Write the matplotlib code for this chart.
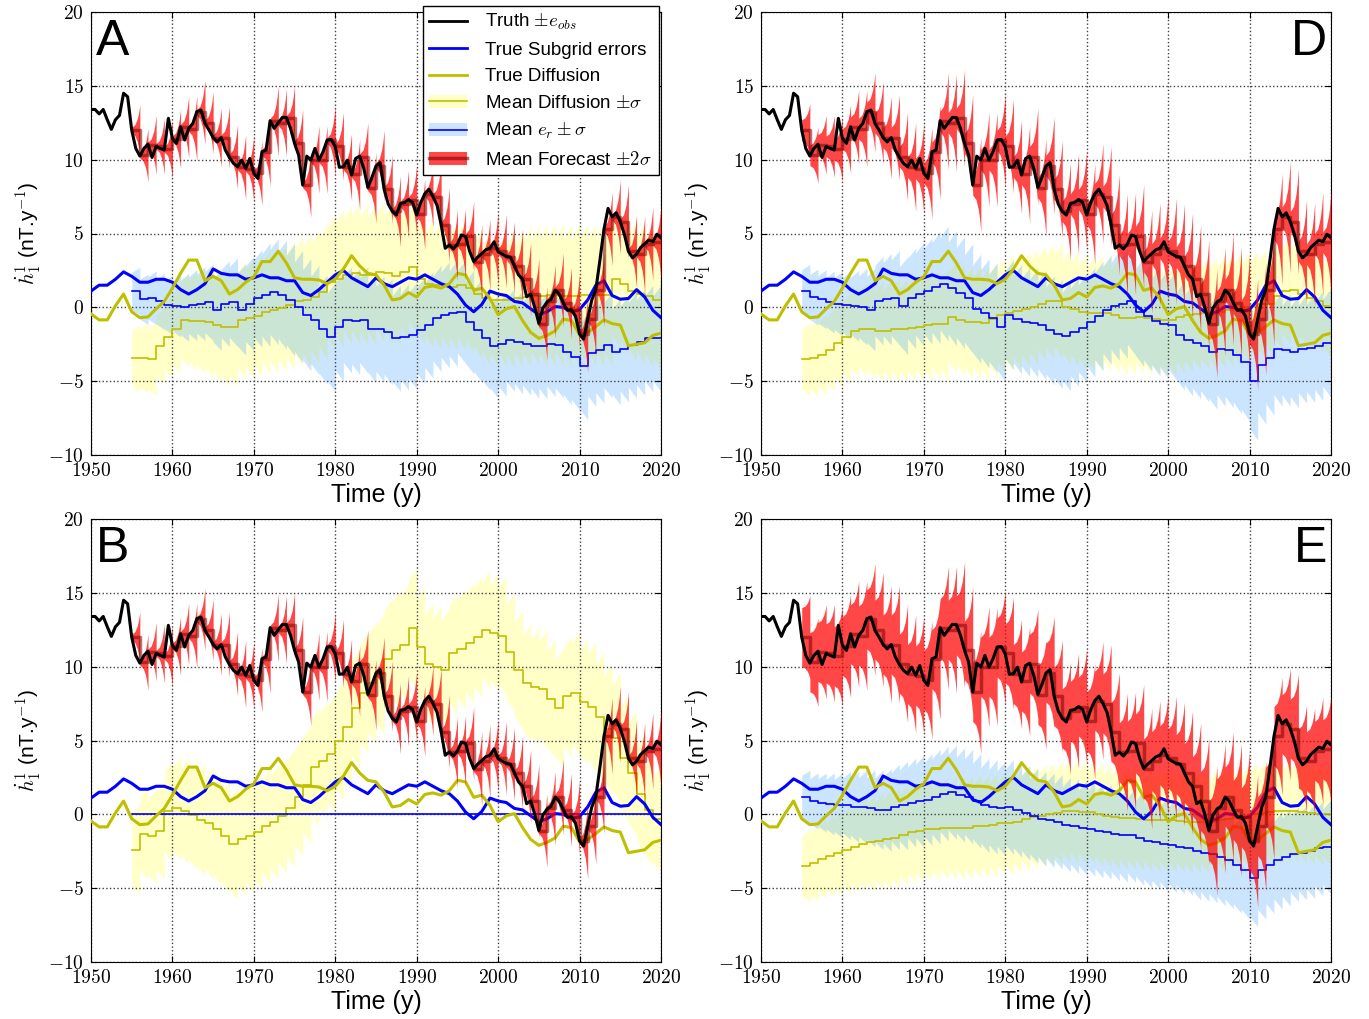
import numpy as np
import matplotlib
matplotlib.use('Agg')
import matplotlib.pyplot as plt
from matplotlib.lines import Line2D
from matplotlib.patches import Patch
from matplotlib.ticker import FuncFormatter, MultipleLocator

plt.rcParams['font.family'] = ['Liberation Sans', 'DejaVu Sans']
plt.rcParams['mathtext.fontset'] = 'cm'

# ---- common "true" series ----
t_truth = np.arange(1950, 2020.01, 0.5)
truth = [13.4, 13.4, 13.1, 13.4, 12.7, 12.05, 12.7, 13.0, 14.5, 14.26,
         12.0, 10.76, 10.24, 10.76, 11.05, 10.15, 10.9, 10.76, 10.65, 12.8,
         11.44, 11.1, 12.23, 11.33, 12.12, 12.45, 13.25, 13.36, 12.45, 12.0,
         11.5, 11.2, 11.5, 10.65, 10.15, 9.75, 9.52, 9.97, 9.41, 10.08,
         9.07, 8.73, 10.54, 10.65, 12.64, 12.12, 12.5, 12.86, 12.86, 12.12,
         11.1, 10.31, 8.28, 10.24, 9.97, 10.76, 9.97, 10.54, 11.33, 11.37,
         10.87, 9.48, 9.52, 9.97, 8.96, 10.08, 10.24, 9.41, 8.12, 8.8,
         9.57, 9.8, 8.0, 7.0, 6.5, 6.25, 7.04, 7.1, 7.3, 7.1,
         6.25, 7.1, 7.7, 8.0, 7.5, 6.9, 5.6, 4.0, 4.22, 3.95,
         4.3, 4.9, 4.8, 3.8, 3.1, 3.4, 3.65, 3.9, 4.0, 4.44,
         3.76, 3.6, 3.45, 3.4, 2.8, 2.2, 1.9, 0.72, 0.9, 0.0,
         -1.09, -0.05, 0.35, 0.55, 1.17, 0.9, 0.3, -0.2, -0.15, -0.6,
         -1.8, -2.15, -0.8, 0.5, 1.2, 3.2, 5.3, 6.7, 6.13, 6.4,
         5.8, 4.95, 3.8, 3.35, 3.6, 4.05, 4.3, 4.55, 4.45, 4.95,
         4.7]

t_year = np.arange(1950, 2021)
subgrid_true = [1.1, 1.5, 1.5, 1.9, 2.4, 2.1, 1.7, 1.7, 1.9, 1.9,
                1.7, 1.2, 0.9, 1.2, 1.6, 2.6, 2.3, 2.2, 2.2, 1.9,
                2.0, 2.2, 2.0, 2.0, 1.8, 1.8, 1.0, 0.8, 1.2, 1.7,
                2.2, 2.5, 2.0, 1.7, 1.4, 2.0, 1.6, 1.4, 1.7, 2.0,
                1.9, 2.2, 1.9, 1.6, 1.4, 0.9, 0.15, -0.3, 0.2, 1.1,
                0.9, 0.8, 0.4, 0.3, -0.1, -0.5, -0.3, 0.05, 0.0, -0.3,
                -0.15, 0.5, 1.5, 1.8, 0.8, 0.55, 0.6, 1.2, 0.7, -0.2,
                -0.7]
diff_true = [-0.45, -0.85, -0.85, 0.1, 0.9, -0.3, -0.7, -0.65, -0.1, 0.4,
             1.3, 2.3, 3.2, 3.2, 1.8, 2.1, 1.8, 0.9, 1.2, 1.7,
             2.07, 3.1, 3.1, 3.8, 3.0, 2.0, 1.9, 1.9, 1.85, 1.6,
             1.9, 2.6, 3.5, 2.8, 2.3, 2.2, 1.5, 0.5, 0.6, 1.0,
             0.7, 1.35, 1.45, 1.3, 1.6, 2.3, 2.2, 1.15, 1.3, 0.6,
             -0.5, -0.1, 0.05, -0.9, -1.7, -2.1, -1.9, -1.6, -0.8, -0.9,
             -1.85, -1.7, -1.3, -0.85, -1.1, -1.2, -2.6, -2.5, -2.4, -1.9,
             -1.75]

# ---- yearly forecast / estimates (1955-2019) ----
fc_years = np.arange(1955, 2020)
fc_mean = [12.0, 10.3, 11.0, 10.9, 10.7, 11.4, 12.2, 12.1, 13.2, 12.5,
           11.5, 11.5, 10.2, 9.5, 9.4, 9.1, 10.5, 12.6, 12.5, 12.8,
           11.1, 8.3, 10.0, 10.0, 11.3, 10.9, 9.5, 9.0, 10.2, 8.1,
           9.6, 8.0, 6.5, 7.0, 7.3, 6.3, 7.7, 7.5, 5.6, 4.2,
           4.3, 4.8, 3.1, 3.6, 4.0, 3.8, 3.4, 2.8, 1.9, 0.9,
           -1.1, 0.4, 1.2, 0.3, -0.2, -1.8, -0.8, 1.2, 5.3, 6.1,
           5.8, 3.8, 3.6, 4.3, 4.4]

# panel A
A_diff_m = [-3.45, -3.4, -3.5, -2.6, -2.0, -1.45, -0.85, -0.9, -0.95, -1.0,
            -1.2, -1.35, -1.35, -0.85, -0.75, -0.6, -0.3, -0.15, -0.05, 0.15,
            0.4, 0.5, 0.7, 1.05, 1.7, 1.95, 2.2, 2.3, 2.2, 2.2,
            2.4, 2.3, 2.1, 2.4, 2.75, 1.9, 1.6, 1.5, 1.5, 1.4,
            1.5, 1.3, 0.9, 0.6, 0.5, 0.5, 0.5, 0.6, 0.7, 0.8,
            0.8, 0.85, 0.85, 0.8, 0.8, 0.85, 0.85, 0.85, 0.85, 1.95,
            1.6, 1.1, 0.9, 0.75, 0.5]
A_diff_s = [2.3, 2.4, 2.5, 2.6, 2.8, 3.0, 3.2, 3.4, 3.6, 3.8,
            3.9, 4.0, 4.0, 4.0, 4.1, 4.1, 4.2, 4.3, 4.3, 4.4,
            4.4, 4.5, 4.5, 4.6, 4.6, 4.7, 4.7, 4.8, 4.8, 4.8,
            4.8, 4.8, 4.7, 4.6, 4.5, 4.4, 4.3, 4.3, 4.3, 4.3,
            4.4, 4.4, 4.4, 4.5, 4.5, 4.5, 4.6, 4.6, 4.7, 4.7,
            4.8, 4.8, 4.8, 4.8, 4.8, 4.8, 4.8, 4.8, 4.8, 4.8,
            4.8, 4.8, 4.8, 4.8, 4.8]
A_er_m = [1.1, 0.55, 0.65, 0.4, 0.15, 0.1, 0.0, 0.15, 0.25, 0.35,
          -0.2, 0.25, 0.35, -0.15, 0.25, 0.6, 0.85, 1.05, 0.85, 0.5,
          0.05, -0.5, -0.85, -1.5, -2.0, -1.3, -0.85, -0.95, -0.85, -1.5,
          -1.45, -1.65, -2.1, -2.0, -1.9, -1.55, -1.2, -0.75, -0.5, -0.4,
          -0.3, -1.0, -1.55, -2.1, -2.65, -2.5, -2.2, -2.35, -2.45, -2.65,
          -2.6, -2.45, -2.55, -3.0, -3.35, -4.0, -3.1, -2.9, -2.55, -3.0,
          -2.8, -2.55, -2.35, -2.1, -2.1]
A_er_s = [1.6, 1.7, 1.8, 1.9, 2.0, 2.1, 2.3, 2.4, 2.5, 2.6,
          2.7, 2.9, 3.0, 3.1, 3.2, 3.3, 3.5, 3.6, 3.7, 3.8,
          3.8, 3.8, 3.7, 3.7, 3.7, 3.7, 3.6, 3.6, 3.6, 3.6,
          3.6, 3.6, 3.6, 3.6, 3.6, 3.6, 3.6, 3.6, 3.6, 3.6,
          3.5, 3.5, 3.5, 3.5, 3.5, 3.5, 3.5, 3.5, 3.5, 3.5,
          3.6, 3.6, 3.6, 3.6, 3.6, 3.6, 3.6, 3.6, 3.6, 3.6,
          3.6, 3.6, 3.6, 3.6, 3.6]
A_fc_w = [1.7, 1.8, 2.0, 1.9, 2.0, 2.0, 2.1, 2.2, 2.2, 2.1,
          2.0, 2.1, 2.2, 2.2, 2.3, 2.2, 2.3, 2.4, 2.3, 2.2,
          2.3, 2.2, 2.3, 2.3, 2.4, 2.3, 2.3, 2.4, 2.3, 2.4,
          2.4, 2.3, 2.4, 2.3, 2.4, 2.4, 2.3, 2.4, 2.5, 2.4,
          2.4, 2.4, 2.5, 2.4, 2.5, 2.5, 2.4, 2.5, 2.5, 2.4,
          2.5, 2.5, 2.5, 2.4, 2.5, 2.6, 2.5, 2.5, 2.5, 2.5,
          2.5, 2.5, 2.6, 2.5, 2.5]

# panel B
B_diff_m = [-2.4, -1.3, -1.5, -1.1, 0.2, 0.4, 0.2, -0.05, -0.4, -0.6,
            -1.0, -1.5, -2.0, -1.7, -1.5, -1.2, -0.8, -0.5, -0.1, 0.4,
            1.2, 2.0, 3.2, 3.6, 4.1, 5.0, 5.9, 7.2, 8.2, 8.9,
            9.5, 10.5, 11.1, 11.5, 12.6, 11.3, 10.2, 10.0, 9.8, 10.9,
            11.2, 11.6, 12.0, 12.5, 12.3, 12.1, 11.0, 9.8, 8.9, 8.6,
            8.5, 7.8, 7.2, 8.0, 8.2, 7.6, 7.3, 6.6, 5.8, 5.2,
            3.8, 2.8, 1.4, 0.3, -0.3]
B_diff_s = [3.0, 3.1, 3.2, 3.3, 3.4, 3.5, 3.6, 3.7, 3.8, 3.8,
            3.8, 3.8, 3.8, 3.8, 3.8, 3.9, 3.9, 3.9, 3.9, 4.0,
            4.0, 4.0, 4.0, 4.0, 4.0, 4.0, 4.0, 4.0, 4.1, 4.1,
            4.1, 4.1, 4.1, 4.1, 4.1, 4.1, 4.1, 4.1, 4.1, 4.1,
            4.1, 4.1, 4.1, 4.0, 4.0, 4.0, 4.0, 4.0, 4.0, 4.0,
            4.0, 4.0, 4.0, 4.1, 4.2, 4.3, 4.4, 4.4, 4.4, 4.4,
            4.3, 4.2, 4.0, 3.8, 3.6]
B_er_m = [0.0] * len(fc_years)
B_fc_w = [1.7, 1.9, 2.0, 2.0, 2.1, 2.0, 2.1, 2.2, 2.1, 2.1,
          2.1, 2.2, 2.2, 2.3, 2.3, 2.2, 2.3, 2.3, 2.3, 2.2,
          2.3, 2.3, 2.3, 2.4, 2.4, 2.3, 2.4, 2.4, 2.3, 2.4,
          2.4, 2.4, 2.4, 2.4, 2.4, 2.4, 2.4, 2.4, 2.5, 2.4,
          2.4, 2.5, 2.5, 2.5, 2.5, 2.5, 2.5, 2.5, 2.5, 2.5,
          2.5, 2.5, 2.6, 2.5, 2.5, 2.6, 2.6, 2.5, 2.6, 2.6,
          2.5, 2.6, 2.6, 2.6, 2.6]

# panel D
D_diff_m = [-3.5, -3.4, -3.2, -2.9, -2.4, -2.0, -1.6, -1.5, -1.5, -1.6,
            -1.6, -1.5, -1.5, -1.4, -1.3, -1.2, -1.15, -1.1, -0.65, -0.85,
            -1.0, -1.0, -1.05, -0.8, -0.55, -0.4, -0.25, -0.1, 0.05, 0.25,
            0.4, 0.45, 0.05, -0.1, -0.3, -0.4, -0.35, -0.4, -0.5, -0.7,
            -0.75, -0.65, -0.75, -0.8, -0.85, -0.85, -0.65, -0.55, -0.45, -0.4,
            -0.4, -0.3, -0.2, -0.1, 0.0, 0.1, 0.2, 0.25, 0.8, 1.1,
            1.15, 0.9, 0.6, 0.4, 0.1]
D_diff_s = [2.5, 2.6, 2.7, 2.8, 2.9, 3.0, 3.1, 3.2, 3.3, 3.4,
            3.4, 3.5, 3.5, 3.6, 3.6, 3.7, 3.7, 3.8, 3.8, 3.8,
            3.8, 3.8, 3.8, 3.9, 3.9, 3.9, 3.9, 3.9, 3.9, 3.9,
            3.9, 3.9, 3.9, 3.9, 3.9, 3.9, 3.9, 3.9, 3.9, 3.9,
            3.8, 3.8, 3.8, 3.8, 3.8, 3.8, 3.8, 3.8, 3.8, 3.8,
            3.8, 3.8, 3.8, 3.8, 3.7, 3.7, 3.7, 3.6, 3.6, 3.6,
            3.5, 3.5, 3.5, 3.5, 3.5]
D_er_m = [1.1, 0.7, 0.55, 0.35, 0.25, 0.15, 0.1, 0.05, -0.15, 0.45,
          0.55, 0.65, 0.1, 0.6, 0.9, 1.1, 1.35, 1.6, 1.3, 1.0,
          0.6, -0.1, -0.4, -0.7, -1.3, -0.5, -0.8, -1.0, -1.05, -1.2,
          -1.55, -1.8, -1.95, -1.65, -1.4, -1.0, -0.6, -0.15, 0.1, 0.25,
          0.45, -0.3, -0.6, -0.95, -1.1, -1.2, -1.9, -2.2, -2.4, -2.6,
          -3.0, -2.8, -2.9, -3.2, -3.7, -5.0, -3.9, -3.4, -2.8, -2.9,
          -3.0, -2.8, -2.75, -2.6, -2.4]
D_er_s = [1.8, 1.9, 2.0, 2.1, 2.2, 2.3, 2.4, 2.6, 2.8, 3.0,
          3.1, 3.2, 3.3, 3.4, 3.5, 3.6, 3.8, 3.9, 3.9, 3.8,
          3.7, 3.7, 3.7, 3.7, 3.7, 3.7, 3.7, 3.7, 3.7, 3.7,
          3.7, 3.7, 3.7, 3.7, 3.7, 3.7, 3.7, 3.7, 3.7, 3.7,
          3.7, 3.7, 3.7, 3.7, 3.7, 3.7, 3.7, 3.8, 3.8, 3.8,
          3.9, 3.9, 3.9, 4.0, 4.0, 4.0, 4.0, 3.9, 3.9, 3.8,
          3.8, 3.7, 3.7, 3.7, 3.7]
D_fc_w = [1.8, 1.9, 2.0, 2.1, 2.2, 2.3, 2.5, 2.6, 2.7, 2.8,
          2.8, 2.9, 3.0, 3.0, 3.1, 3.1, 3.2, 3.3, 3.3, 3.3,
          3.3, 3.2, 3.2, 3.2, 3.2, 3.2, 3.2, 3.3, 3.3, 3.3,
          3.3, 3.3, 3.3, 3.4, 3.4, 3.4, 3.4, 3.4, 3.4, 3.5,
          3.5, 3.5, 3.5, 3.5, 3.6, 3.6, 3.6, 3.6, 3.7, 3.7,
          3.7, 3.7, 3.8, 3.8, 3.8, 3.8, 3.8, 3.8, 3.8, 3.8,
          3.6, 3.5, 3.5, 3.5, 3.5]

# panel E
E_diff_m = [-3.5, -3.3, -3.0, -2.8, -2.6, -2.4, -2.2, -2.0, -1.9, -1.8,
            -1.7, -1.6, -1.4, -1.2, -1.1, -1.0, -1.0, -0.9, -0.9, -0.9,
            -0.9, -0.8, -0.8, -0.7, -0.6, -0.6, -0.5, -0.3, -0.2, -0.1,
            0.0, 0.1, 0.2, 0.2, 0.15, 0.15, 0.0, -0.1, -0.2, -0.25,
            -0.25, -0.3, -0.35, -0.4, -0.4, -0.4, -0.45, -0.5, -0.5, -0.5,
            -0.5, -0.4, -0.3, -0.2, -0.1, 0.0, 0.1, 0.15, 0.2, 0.2,
            0.2, 0.15, 0.1, 0.05, 0.0]
E_diff_s = [2.5, 2.6, 2.7, 2.8, 2.9, 3.0, 3.1, 3.2, 3.3, 3.3,
            3.4, 3.4, 3.4, 3.5, 3.5, 3.5, 3.5, 3.5, 3.5, 3.5,
            3.5, 3.5, 3.5, 3.5, 3.5, 3.5, 3.5, 3.5, 3.5, 3.5,
            3.5, 3.5, 3.5, 3.5, 3.5, 3.5, 3.5, 3.5, 3.5, 3.5,
            3.5, 3.5, 3.5, 3.5, 3.5, 3.5, 3.5, 3.5, 3.5, 3.5,
            3.5, 3.5, 3.5, 3.5, 3.5, 3.5, 3.5, 3.5, 3.5, 3.5,
            3.5, 3.5, 3.5, 3.5, 3.5]
E_er_m = [1.2, 0.9, 0.8, 0.7, 0.6, 0.6, 0.5, 0.5, 0.4, 0.3,
          0.3, 0.5, 0.6, 0.8, 0.9, 1.0, 1.2, 1.4, 1.5, 1.3,
          1.2, 0.9, 0.6, 0.5, 0.4, 0.5, 0.3, 0.1, -0.1, -0.3,
          -0.4, -0.5, -0.7, -0.8, -0.9, -1.0, -1.1, -1.2, -1.3, -1.4,
          -1.4, -1.6, -1.8, -1.9, -2.0, -2.1, -2.2, -2.3, -2.5, -2.6,
          -2.7, -2.9, -3.1, -3.4, -3.8, -4.3, -3.8, -3.4, -3.1, -2.9,
          -2.7, -2.6, -2.5, -2.3, -2.2]
E_er_s = [1.8, 1.9, 2.0, 2.1, 2.2, 2.3, 2.4, 2.5, 2.6, 2.7,
          2.8, 2.9, 3.0, 3.0, 3.1, 3.1, 3.2, 3.2, 3.2, 3.2,
          3.2, 3.2, 3.2, 3.2, 3.2, 3.2, 3.2, 3.2, 3.2, 3.2,
          3.2, 3.2, 3.2, 3.2, 3.2, 3.2, 3.2, 3.2, 3.2, 3.2,
          3.2, 3.2, 3.2, 3.2, 3.2, 3.2, 3.2, 3.2, 3.3, 3.3,
          3.3, 3.3, 3.3, 3.3, 3.3, 3.3, 3.3, 3.3, 3.3, 3.3,
          3.2, 3.2, 3.2, 3.2, 3.2]
E_fc_w = [2.8, 3.0, 3.2, 3.3, 3.4, 3.5, 3.6, 3.7, 3.8, 3.9,
          4.0, 4.0, 4.0, 4.0, 4.0, 4.0, 4.1, 4.2, 4.3, 4.3,
          4.3, 4.2, 4.1, 4.0, 3.9, 3.8, 3.7, 3.7, 3.7, 3.7,
          3.8, 3.8, 3.8, 3.9, 3.9, 3.9, 4.0, 4.0, 4.0, 4.0,
          4.0, 4.0, 4.1, 4.1, 4.1, 4.2, 4.2, 4.2, 4.3, 4.3,
          4.4, 4.4, 4.4, 4.5, 4.5, 4.5, 4.4, 4.3, 4.0, 3.8,
          3.7, 3.6, 3.6, 3.6, 3.6]

# spread at the start of each forecast year
fc_w0 = {'A': 0.2, 'B': 0.2, 'D': 0.7, 'E': 2.0}

OLIVE = '#bfbf00'
BLUE = '#0000ff'


def saw(years, mean, w0, w1, steps=(0.0, 1.0), prof=(0.0, 1.0)):
    # each year: flat mean, spread going from w0 (start) to w1 (end)
    n = len(steps)
    yrs = np.asarray(years, float)
    x = (yrs[:, None] + np.asarray(steps)[None, :]).ravel()
    m = np.repeat(np.asarray(mean, float), n)
    w0 = np.broadcast_to(np.asarray(w0, float), yrs.shape)
    w1 = np.broadcast_to(np.asarray(w1, float), yrs.shape)
    w = (w0[:, None] + (w1 - w0)[:, None] * np.asarray(prof)[None, :]).ravel()
    return x, m, m - w, m + w


# forecast spread opens up late in each year (needle shape)
FC_STEPS = (0.0, 0.4, 0.7, 0.85, 1.0)
FC_PROF = (0.0, 0.12, 0.4, 0.65, 1.0)


def fmt(v, p):
    return r'$%g$' % v


def draw_panel(ax, letter, diff_m, diff_s, er_m, er_s, fc_w, w0, right=False):
    ds = np.asarray(diff_s)
    xd, md, lo, hi = saw(fc_years, diff_m, 0.8 * ds, ds)
    ax.fill_between(xd, lo, hi, color='yellow', alpha=0.22, lw=0, zorder=1)
    xe, me, lo, hi = saw(fc_years, er_m, 0, 0)
    if er_s is not None:
        es = np.asarray(er_s)
        xe, me, lo, hi = saw(fc_years, er_m, 0.8 * es, es)
        ax.fill_between(xe, lo, hi, color='#3399ff', alpha=0.25, lw=0, zorder=1)
    ax.plot(xd, md, color=OLIVE, lw=1.2, zorder=3)
    ax.plot(xe, me, color=BLUE, lw=1.2, zorder=3)
    ax.plot(t_year, subgrid_true, color=BLUE, lw=2.2, zorder=4)
    ax.plot(t_year, diff_true, color=OLIVE, lw=2.2, zorder=4)

    xf, mf, lo, hi = saw(fc_years, fc_mean, w0, fc_w, FC_STEPS, FC_PROF)
    ax.fill_between(xf, lo, hi, color='red', alpha=0.72, lw=0, zorder=5)
    ax.plot(xf, mf, color='#800000', lw=2.5, alpha=0.55, zorder=6)
    ax.plot(t_truth, truth, color='k', lw=2.2, zorder=7)

    ax.set_xlim(1950, 2020)
    ax.set_ylim(-10, 20)
    ax.xaxis.set_major_locator(MultipleLocator(10))
    ax.yaxis.set_major_locator(MultipleLocator(5))
    ax.xaxis.set_major_formatter(FuncFormatter(fmt))
    ax.yaxis.set_major_formatter(FuncFormatter(fmt))
    ax.tick_params(direction='in', top=True, right=True, labelsize=14,
                   length=4, pad=5)
    ax.grid(True, linestyle=':', color='0.25', lw=1)
    ax.set_xlabel('Time (y)', fontsize=18, labelpad=2)
    ax.set_ylabel(r'$\dot{h}_1^1$ (nT.y$^{-1}$)', fontsize=15, labelpad=4)
    if right:
        ax.text(0.993, 0.985, letter, transform=ax.transAxes, fontsize=36,
                ha='right', va='top', zorder=10)
    else:
        ax.text(0.008, 0.985, letter, transform=ax.transAxes, fontsize=36,
                ha='left', va='top', zorder=10)


fig = plt.figure(figsize=(13.69, 10.19), dpi=100)
W, H = 1369.0, 1019.0
axA = fig.add_axes([91 / W, 1 - 455 / H, 570 / W, 443 / H])
axD = fig.add_axes([761 / W, 1 - 455 / H, 570 / W, 443 / H])
axB = fig.add_axes([91 / W, 1 - 962 / H, 570 / W, 443 / H])
axE = fig.add_axes([761 / W, 1 - 962 / H, 570 / W, 443 / H])

draw_panel(axA, 'A', A_diff_m, A_diff_s, A_er_m, A_er_s, A_fc_w, fc_w0['A'])
draw_panel(axD, 'D', D_diff_m, D_diff_s, D_er_m, D_er_s, D_fc_w, fc_w0['D'], right=True)
draw_panel(axB, 'B', B_diff_m, B_diff_s, B_er_m, None, B_fc_w, fc_w0['B'])
draw_panel(axE, 'E', E_diff_m, E_diff_s, E_er_m, E_er_s, E_fc_w, fc_w0['E'], right=True)

handles = [
    Line2D([], [], color='k', lw=2),
    Line2D([], [], color=BLUE, lw=2),
    Line2D([], [], color=OLIVE, lw=2),
    (Patch(facecolor='yellow', alpha=0.22, lw=0), Line2D([], [], color=OLIVE, lw=1.2)),
    (Patch(facecolor='#3399ff', alpha=0.25, lw=0), Line2D([], [], color=BLUE, lw=1.2)),
    (Patch(facecolor='red', alpha=0.72, lw=0), Line2D([], [], color='#800000', lw=2.5, alpha=0.6)),
]
labels = [r'Truth $\pm e_{obs}$', 'True Subgrid errors', 'True Diffusion',
          r'Mean Diffusion $\pm\sigma$', r'Mean $e_r \pm \sigma$',
          r'Mean Forecast $\pm 2\sigma$']
leg = axA.legend(handles, labels, loc='upper right', bbox_to_anchor=(1.006, 1.027),
                 fontsize=13.5, fancybox=False, framealpha=1, edgecolor='k',
                 handlelength=2.0, handletextpad=1.0, labelspacing=0.5,
                 borderpad=0.35, borderaxespad=0.3)
leg.get_frame().set_linewidth(1)
leg.set_zorder(20)

fig.savefig('out.png', dpi=100)
